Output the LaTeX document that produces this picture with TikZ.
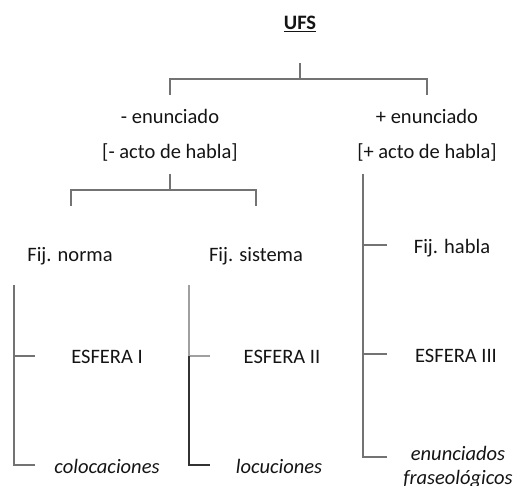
\documentclass[tikz,border=0pt]{standalone}
\usepackage{fontspec}
\setmainfont{Carlito}
\definecolor{linegray}{RGB}{115,115,115}
\definecolor{lightline}{RGB}{160,160,160}
\definecolor{darkline}{RGB}{50,50,50}
\definecolor{textcol}{RGB}{20,20,20}
\begin{document}
\begin{tikzpicture}[x=1pt,y=-1pt,
  font=\fontsize{20.5}{24}\selectfont,
  txt/.style={inner sep=0pt, anchor=base, text=textcol},
  ln/.style={draw=linegray, line width=1.3pt},
  lnlight/.style={draw=lightline, line width=1.3pt},
  lndark/.style={draw=darkline, line width=1.1pt}]
\useasboundingbox (0,0) rectangle (516,486);
% texts
\node[txt] (ufs) at (300,30) {\textbf{\underline{UFS}}};
\node[txt] (menun) at (170,124) {- enunciado};
\node[txt] (macto) at (170,159) {[- acto de habla]};
\node[txt] (penun) at (427,124) {+ enunciado};
\node[txt] (pacto) at (427,159) {[+ acto de habla]};
\node[txt] (norma) at (70,261) {Fij. norma};
\node[txt] (sistema) at (256,261) {Fij. sistema};
\node[txt] (habla) at (452,253) {Fij. habla};
\node[txt] (esf1) at (107,363) {ESFERA I};
\node[txt] (esf2) at (282,363) {ESFERA II};
\node[txt] (esf3) at (456,362) {ESFERA III};
\node[txt] (coloc) at (107,473) {\itshape colocaciones};
\node[txt] (locu) at (279,473) {\itshape locuciones};
\node[txt] (enunA) at (458,460) {\itshape enunciados};
\node[txt] (enunB) at (458,484) {\itshape fraseológicos};
% top bracket
\coordinate (ufsfoot) at (300,63);
\coordinate (bar1) at (300,79);
\coordinate (menunTop) at (170,95);
\coordinate (penunTop) at (427,95);
\draw[ln] (ufsfoot) -- (bar1);
\draw[ln] (menunTop) -- (menunTop |- bar1) -- (penunTop |- bar1) -- (penunTop);
% second bracket
\coordinate (mactofoot) at (170,174);
\coordinate (bar2) at (170,190);
\coordinate (normaTop) at (71,206);
\coordinate (sistemaTop) at (256,206);
\draw[ln] (mactofoot) -- (bar2);
\draw[ln] (normaTop) -- (normaTop |- bar2) -- (sistemaTop |- bar2) -- (sistemaTop);
% right column
\coordinate (pactofoot) at (363,174);
\coordinate (rbottom) at (363,457);
\coordinate (hablaTick) at (387,245);
\coordinate (esf3Tick) at (387,354);
\coordinate (enunTick) at (387,457);
\draw[ln] (pactofoot) -- (rbottom) -- (enunTick);
\draw[ln] (pactofoot |- hablaTick) -- (hablaTick);
\draw[ln] (pactofoot |- esf3Tick) -- (esf3Tick);
% left column
\coordinate (lTop) at (14,285);
\coordinate (esf1Tick) at (35,356);
\coordinate (colocTick) at (35,465);
\draw[ln] (lTop) -- (lTop |- colocTick) -- (colocTick);
\draw[ln] (lTop |- esf1Tick) -- (esf1Tick);
% middle column
\coordinate (mTop) at (189,285);
\coordinate (esf2Tick) at (210,356);
\coordinate (locuTick) at (210,465);
\draw[lnlight] (mTop) -- (mTop |- esf2Tick) -- (esf2Tick);
\draw[lndark] (mTop |- esf2Tick) -- (mTop |- locuTick) -- (locuTick);
\end{tikzpicture}
\end{document}
